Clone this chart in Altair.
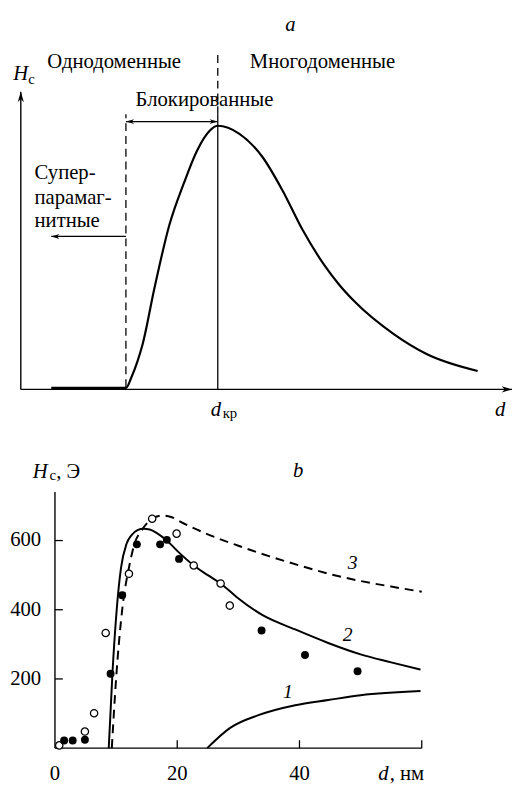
import altair as alt
import pandas as pd

FONT = "Liberation Serif"

# ---------------- panel a (schematic, abstract units 0..100) ----------------
a_curve_x = [6.2, 21.4, 22.5, 23.8, 24.8, 27.2, 30.2, 33.2, 35.9, 38.5, 40.1, 44.5, 49.2, 53.2,
             57.3, 61.9, 64.9, 67.9, 76.0, 82.6, 93.0]
a_curve_y = [0.5, 0.5, 4.0, 9.7, 15.2, 34.0, 55.0, 69.3, 80.3, 87.0, 88.6, 85.9, 78.1, 67.1,
             53.8, 41.5, 35.0, 29.6, 18.5, 11.9, 6.2]
a_d_block = 21.4     # start of blocked region
a_d_cr = 40.1        # critical diameter
a_top_text = 110
a_block_arrow_y = 90.0
a_super_arrow_y = 51.4
a_super_arrow_end = 6.2

# ---------------- panel b (data) ----------------
open_x = [15.9, 19.9, 12.1, 22.7, 27.1, 28.6, 8.3, 6.4, 4.9, 0.7]
open_y = [663, 620, 504, 528, 476, 412, 333, 101, 48, 8]
filled_x = [11.0, 13.4, 17.2, 18.3, 20.3, 9.1, 33.8, 40.9, 49.5, 1.5, 2.9, 4.9]
filled_y = [442, 589, 589, 602, 547, 215, 340, 269, 222, 22, 22, 24]

c1_x = [24.9, 28.6, 33.4, 39.3, 44.7, 50.0, 59.8]
c1_y = [0, 58, 96, 124, 139, 153, 165]
c2_x = [8.8, 9.4, 10.1, 10.8, 11.7, 12.5, 13.5, 14.5, 15.5, 16.8, 18.3, 20.3, 22.7, 25.0,
        27.1, 29.7, 33.9, 39.3, 44.7, 50.0, 55.0, 59.8]
c2_y = [0, 215, 400, 520, 590, 615, 630, 634, 632, 620, 600, 565, 528, 500,
        476, 437, 385, 343, 304, 271, 248, 227]
c3_x = [9.3, 10.0, 11.0, 12.2, 13.0, 14.2, 15.9, 17.5, 19.0, 21.0, 25.0, 30.0, 35.0, 40.0,
        45.0, 50.0, 55.0, 60.0]
c3_y = [0, 200, 400, 530, 590, 630, 663, 672, 668, 650, 618, 585, 555, 528,
        503, 483, 467, 452]

y_ticks = [200, 400, 600]
x_ticks = [20, 40, 60]
x_tick_labels = ["20", "40"]

# ---------------- scales ----------------
AX = alt.Scale(domain=[0, 100], range=[13, 512], nice=False, zero=False)
AY = alt.Scale(domain=[0, 100], range=[381.3, 79], nice=False, zero=False)
BX = alt.Scale(domain=[0, 60], range=[47.7, 420.3], nice=False, zero=False)
BY = alt.Scale(domain=[0, 740], range=[745.7, 485.6], nice=False, zero=False)


def enc(sx, sy, x="x", y="y", x2=None, y2=None):
    e = dict(x=alt.X(x, type="quantitative", scale=sx, axis=None),
             y=alt.Y(y, type="quantitative", scale=sy, axis=None))
    if x2:
        e["x2"] = alt.X2(x2)
    if y2:
        e["y2"] = alt.Y2(y2)
    return e


def text_layer(df, sx, sy, size=21, italic=False, align="center", dx=0, dy=0):
    kw = dict(font=FONT, fontSize=size, align=align, baseline="middle", color="black")
    if italic:
        kw["fontStyle"] = "italic"
    if dx:
        kw["dx"] = dx
    if dy:
        kw["dy"] = dy
    return alt.Chart(df).mark_text(**kw).encode(**enc(sx, sy), text="t:N")


ARROW_L = "M0,0 L2,-0.6 L1.4,0 L2,0.6 Z"
ARROW_R = "M0,0 L-2,-0.6 L-1.4,0 L-2,0.6 Z"
ARROW_U = "M0,0 L-0.6,2 L0,1.4 L0.6,2 Z"


def head(x, y, shape, size, sx, sy):
    return alt.Chart(pd.DataFrame({"x": [x], "y": [y]})).mark_point(
        shape=shape, size=size, filled=True, color="black", opacity=1).encode(**enc(sx, sy))


# ---- panel a layers ----
a_axes = alt.Chart(pd.DataFrame({"x": [0, 0], "y": [0, 0], "x2": [0, 100], "y2": [100, 0]})).mark_rule(
    color="black", strokeWidth=1.4).encode(**enc(AX, AY, x2="x2", y2="y2"))
a_curve = alt.Chart(pd.DataFrame({"x": a_curve_x, "y": a_curve_y})).mark_line(
    color="black", strokeWidth=2.2, interpolate="monotone").encode(**enc(AX, AY))
a_dashed = alt.Chart(pd.DataFrame({"x": [a_d_block, a_d_cr], "y": [0.8, 92.5],
                                   "x2": [a_d_block, a_d_cr], "y2": [92.5, 113]})).mark_rule(
    color="black", strokeWidth=1.3, strokeDash=[8, 5]).encode(**enc(AX, AY, x2="x2", y2="y2"))
a_solid_v = alt.Chart(pd.DataFrame({"x": [a_d_cr], "y": [0], "x2": [a_d_cr], "y2": [92.5]})).mark_rule(
    color="black", strokeWidth=1.3).encode(**enc(AX, AY, x2="x2", y2="y2"))
a_arrows = alt.Chart(pd.DataFrame({"x": [a_d_block, a_super_arrow_end], "y": [a_block_arrow_y, a_super_arrow_y],
                                   "x2": [a_d_cr, a_d_block], "y2": [a_block_arrow_y, a_super_arrow_y]})).mark_rule(
    color="black", strokeWidth=1.3).encode(**enc(AX, AY, x2="x2", y2="y2"))

a_text = text_layer(pd.DataFrame({"x": [19.0, 61.4, 37.4], "y": [a_top_text, a_top_text, 97.1],
                                  "t": ["Однодоменные", "Многодоменные", "Блокированные"]}), AX, AY)
a_super = text_layer(pd.DataFrame({"x": [2.8, 2.8, 2.8], "y": [72.6, 64.3, 56.7],
                                   "t": ["Супер-", "парамаг-", "нитные"]}), AX, AY, align="left")
a_ital = text_layer(pd.DataFrame({"x": [54.9, 97.6, 39.7, 0.0], "y": [122.3, -6.8, -6.8, 105.8],
                                  "t": ["a", "d", "d", "H"]}), AX, AY, italic=True)
a_sub = text_layer(pd.DataFrame({"x": [41.1, 1.5], "y": [-8.0, 104.4], "t": ["кр", "c"]}),
                   AX, AY, size=15, align="left")

panel_a = alt.layer(
    a_axes, a_dashed, a_solid_v, a_arrows, a_curve,
    head(0, 100, ARROW_U, 110, AX, AY), head(100, 0, ARROW_R, 110, AX, AY),
    head(a_d_block, a_block_arrow_y, ARROW_L, 70, AX, AY), head(a_d_cr, a_block_arrow_y, ARROW_R, 70, AX, AY),
    head(a_super_arrow_end, a_super_arrow_y, ARROW_L, 70, AX, AY),
    a_text, a_super, a_ital, a_sub,
)

# ---- panel b layers ----
b_axes = alt.Chart(pd.DataFrame({"x": [0, 0], "y": [0, 0], "x2": [0, 60], "y2": [740, 0]})).mark_rule(
    color="black", strokeWidth=1.4).encode(**enc(BX, BY, x2="x2", y2="y2"))
b_yticks = alt.Chart(pd.DataFrame({"x": [0] * len(y_ticks), "y": y_ticks})).mark_tick(
    orient="horizontal", size=8, thickness=1.3, xOffset=4, color="black", opacity=1).encode(**enc(BX, BY))
b_xticks = alt.Chart(pd.DataFrame({"x": x_ticks, "y": [0] * len(x_ticks)})).mark_tick(
    orient="vertical", size=8, thickness=1.3, yOffset=-4, color="black", opacity=1).encode(**enc(BX, BY))
b_ylab = text_layer(pd.DataFrame({"x": [0] * len(y_ticks), "y": y_ticks, "t": [str(v) for v in y_ticks]}),
                    BX, BY, align="right", dx=-14)
b_xlab = text_layer(pd.DataFrame({"x": [0, 20, 40], "y": [0, 0, 0], "t": ["0"] + x_tick_labels}),
                    BX, BY, dy=26)
b_line1 = alt.Chart(pd.DataFrame({"x": c1_x, "y": c1_y})).mark_line(
    color="black", strokeWidth=2, interpolate="monotone").encode(**enc(BX, BY))
b_line2 = alt.Chart(pd.DataFrame({"x": c2_x, "y": c2_y})).mark_line(
    color="black", strokeWidth=2, interpolate="monotone").encode(**enc(BX, BY))
b_line3 = alt.Chart(pd.DataFrame({"x": c3_x, "y": c3_y})).mark_line(
    color="black", strokeWidth=2, strokeDash=[9, 6], interpolate="monotone").encode(**enc(BX, BY))
b_open = alt.Chart(pd.DataFrame({"x": open_x, "y": open_y})).mark_point(
    shape="circle", size=55, filled=True, fill="white", stroke="black", strokeWidth=1.3, opacity=1).encode(**enc(BX, BY))
b_filled = alt.Chart(pd.DataFrame({"x": filled_x, "y": filled_y})).mark_point(
    shape="circle", size=65, filled=True, color="black", opacity=1).encode(**enc(BX, BY))
b_ital = text_layer(pd.DataFrame({"x": [39.8, -2.4], "y": [801, 799], "t": ["b", "H"]}),
                    BX, BY, italic=True)
b_d = text_layer(pd.DataFrame({"x": [54.75], "y": [0], "t": ["d"]}), BX, BY, italic=True,
                 align="right", dx=-1, dy=26)
b_sub = text_layer(pd.DataFrame({"x": [-0.9], "y": [790], "t": ["c"]}), BX, BY, size=15, align="left")
b_unit_y = text_layer(pd.DataFrame({"x": [0.2], "y": [799], "t": [", Э"]}), BX, BY, align="left")
b_unit_x = text_layer(pd.DataFrame({"x": [54.75], "y": [0], "t": [", нм"]}), BX, BY, align="left", dy=26)
b_curve_lab = text_layer(pd.DataFrame({"x": [38.1, 47.9, 48.7], "y": [162, 328, 534], "t": ["1", "2", "3"]}),
                         BX, BY, italic=True, size=20)

panel_b = alt.layer(
    b_axes, b_yticks, b_xticks, b_line1, b_line2, b_line3, b_open, b_filled,
    b_ylab, b_xlab, b_ital, b_d, b_sub, b_unit_y, b_unit_x, b_curve_lab,
)

chart = alt.layer(panel_a, panel_b).resolve_scale(x="independent", y="independent").properties(
    width=513, height=779, padding=0, autosize=alt.AutoSizeParams(type="none")
).configure(font=FONT).configure_text(font=FONT).configure_view(stroke=None)

chart.save("out.html", embed_options={"renderer": "svg", "actions": False})
